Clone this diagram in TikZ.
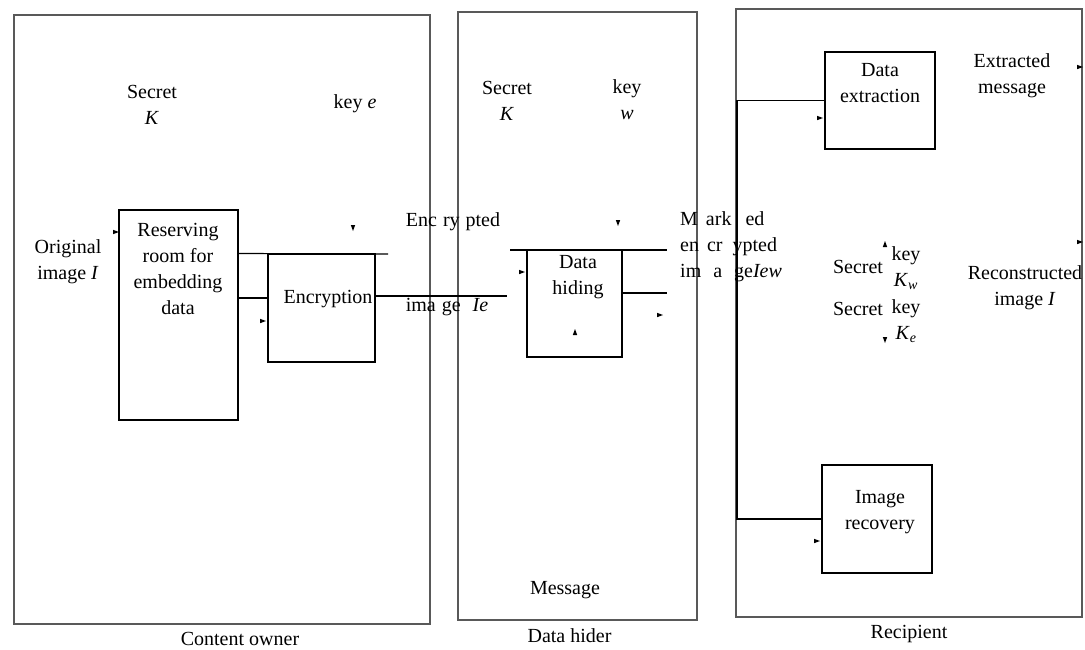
\documentclass[tikz,border=0pt]{standalone}
\usepackage{fontspec}
\setmainfont{Liberation Serif}
\usetikzlibrary{positioning}
\newcommand{\blk}[5]{% x, y (centre), width, height, name
  \node[draw,line width=1.1pt,minimum width=#3pt,minimum height=#4pt,inner sep=0] (#5) at (#1,#2) {};}
\newcommand{\tick}[3]{% x, y, angle   (small stray arrow head)
  \fill[shift={(#1,#2)},rotate=#3] (-3,-2.2) -- (3,0) -- (-3,2.2) -- cycle;}

\begin{document}
\begin{tikzpicture}[x=1pt,y=-1pt,font=\fontsize{20}{26}\selectfont,
    lbl/.style={align=center,inner sep=0},
    panel/.style={draw=black!65,line width=1.2pt,inner sep=0}]
  \useasboundingbox (0,0) rectangle (1085,649);
  % three parties
  \node[panel,minimum width=416pt,minimum height=609pt] (owner) at (222,319.5) {};
  \node[panel,minimum width=239pt,minimum height=608pt] (hider) at (577.5,316) {};
  \node[panel,minimum width=346pt,minimum height=608pt] (recip) at (909,313) {};
  \node[below=4pt of owner,xshift=18pt] (capOwner) {Content owner};
  \node[below=4pt of hider,xshift=-8pt] (capHider) {Data hider};
  \node[below=4pt of recip,xshift=0pt] (capRecip) {Recipient};
  % content owner
  \node[lbl] (skOwner) at (152,105) {Secret\\\textit{K}};
  \node[lbl] (keyE) at (355,104) {key \textit{e}};
  \node[lbl] (orig) at (68,262) {Original\\image \textit{I}};
  \blk{178.5}{315}{119}{210}{res}
  \node[lbl] (resTxt) at (178,269) {Reserving\\room for\\embedding\\data};
  \blk{321.5}{308}{107}{108}{enc}
  \node[lbl] (encTxt) at (328,299) {Encryption};
  \coordinate (encTop) at (388,254);
  \draw[line width=1.1pt] (res.east |- enc.north) -- (encTop);
  \coordinate (encIn) at (268,298);
  \draw[line width=1.1pt] (res.east |- encIn) -- (encIn);
  \coordinate (hideIn) at (507,296);
  \draw[line width=1.1pt] (enc.east |- hideIn) -- (hideIn);
  \node[lbl] (encImgA) at (453,222) {Enc\hspace{6pt}ry\hspace{6pt}pted};
  \node[lbl] (encImgB) at (447,307) {ima\hspace{6pt}ge\hspace{12pt}\textit{Ie}};
  \tick{116}{232}{0}
  \tick{263}{321}{0}
  \tick{353}{228}{-90}
  % data hider
  \node[lbl] (skHider) at (507,101) {Secret\\\textit{K}};
  \node[lbl] (keyW) at (627,100) {key\\\textit{w}};
  \blk{574.5}{303.5}{95}{107}{hide}
  \node[lbl] (hideTxt) at (578,277) {Data\\hiding};
  \coordinate (hideTop0) at (510,250);
  \coordinate (hideTop1) at (667,250);
  \draw[line width=1.1pt] (hideTop0) -- (hideTop1);
  \coordinate (hideOut) at (667,293);
  \draw[line width=1.1pt] (hide.east |- hideOut) -- (hideOut);
  \node[lbl,align=left,anchor=west] (marked) at (680,247)
    {M\hspace{8pt}ark\hspace{14pt}ed\\en\hspace{8pt}cr\hspace{10pt}ypted\\im\hspace{12pt}a\hspace{12pt}ge\textit{Iew}};
  \node[lbl] (msg) at (565,590) {Message};
  \tick{522}{272}{0}
  \tick{618}{223}{-90}
  \tick{660}{315}{0}
  \tick{575}{332}{90}
  % recipient
  \blk{880}{100.5}{110}{97}{extr}
  \node[lbl] (extrTxt) at (880,83) {Data\\extraction};
  \node[lbl] (extrMsg) at (1012,76) {Extracted\\message};
  \blk{877}{519}{110}{108}{recov}
  \node[lbl] (recovTxt) at (880,512) {Image\\recovery};
  \coordinate (busTop) at (737,100.5);
  \draw[line width=1.5pt] (extr.west) -- (busTop) |- (recov.west);
  \node[lbl] (secW) at (858,267) {Secret};
  \node[lbl] (keyKw) at (906,268) {key\\\textit{K}\textsubscript{\textit{w}}};
  \node[lbl] (secE) at (858,309) {Secret};
  \node[lbl] (keyKe) at (906,321) {key\\\textit{K}\textsubscript{\textit{e}}};
  \node[lbl] (recon) at (1025,288) {Reconstructed\\image \textit{I}};
  \tick{820}{118}{0}
  \tick{1080}{67}{0}
  \tick{885}{244}{90}
  \tick{885}{340}{-90}
  \tick{1080}{242}{0}
  \tick{817}{541}{0}
\end{tikzpicture}
\end{document}
